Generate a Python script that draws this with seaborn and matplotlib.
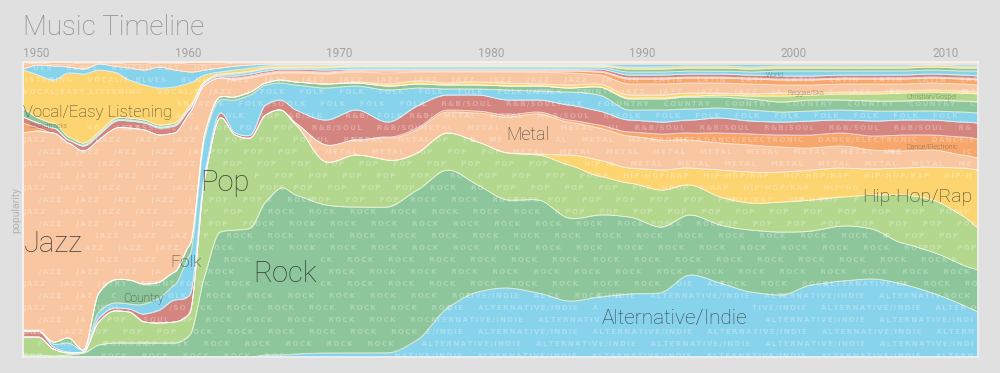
import numpy as np
import matplotlib
matplotlib.use("Agg")
import matplotlib.pyplot as plt
from matplotlib.patches import Polygon
import seaborn as sns

# ---------------- data (relative popularity) ----------------
years = [1950, 1951, 1952, 1953, 1954, 1955, 1956, 1957, 1958, 1959, 1960, 1961,
         1962, 1963, 1964, 1965, 1966, 1967, 1968, 1970, 1972, 1974, 1976, 1978,
         1980, 1982, 1984, 1986, 1988, 1990, 1992, 1994, 1996, 1998, 2000, 2002,
         2004, 2006, 2008, 2010, 2012, 2013]

genres = ["Alternative/Indie", "Rock", "Pop", "Hip-Hop/Rap", "Metal", "Dance/Electronic",
          "R&B/Soul", "Folk", "Country", "Christian/Gospel", "Reggae/Ska", "Jazz",
          "Latin", "Soundtracks", "Classical", "World", "Children's",
          "Vocal/Easy Listening", "Blues", "Holiday", "Comedy/Spoken"]

alternative = [0, 0, 0, 0, 0, 0, 0, 0, 0, 0, 0, 0, 0, 0, 0, 0, 2, 2, 3, 4, 4, 4, 17, 49,
               65, 69, 64, 56, 60, 63, 64, 82, 74, 65, 62, 72, 76, 78, 73, 64, 52, 45]
rock = [2, 2, 1, 2, 4, 12, 14, 14, 14, 14, 14, 22, 82, 125, 127, 129, 153, 167, 159, 148,
        146, 146, 150, 138, 107, 88, 93, 83, 82, 77, 66, 60, 58, 62, 63, 54, 55, 50, 41,
        41, 40, 42]
pop = [18, 18, 7, 2, 1, 23, 32, 31, 21, 20, 21, 22, 97, 114, 95, 90, 87, 78, 70, 43, 52,
       47, 37, 37, 43, 47, 45, 53, 39, 34, 37, 30, 28, 27, 30, 31, 29, 34, 48, 52, 49, 42]
hiphop = [0, 0, 0, 0, 0, 0, 0, 0, 0, 0, 0, 0, 0, 0, 0, 0, 0, 0, 0, 0, 0, 0, 0, 0, 0, 0,
          1, 10, 16, 15, 20, 17, 27, 31, 30, 30, 29, 26, 27, 33, 48, 58]
metal = [0, 0, 0, 0, 0, 0, 0, 0, 0, 0, 0, 0, 0, 0, 0, 0, 0, 0, 2, 17, 15, 22, 23, 21, 29,
         36, 40, 33, 32, 32, 30, 28, 27, 27, 25, 22, 22, 19, 17, 17, 13, 12]
dance = [0, 0, 0, 0, 0, 0, 0, 0, 0, 0, 0, 0, 0, 0, 0, 0, 0, 0, 0, 0, 0, 1, 2, 2, 2, 2, 2,
         2, 3, 4, 6, 7, 10, 11, 12, 13, 13, 14, 16, 15, 18, 19]
rnb = [6, 6, 2, 1, 0, 4, 3, 3, 8, 13, 22, 18, 6, 5, 2, 3, 10, 10, 13, 25, 30, 15, 22, 15,
       16, 15, 12, 15, 14, 12, 12, 13, 15, 13, 13, 14, 13, 15, 15, 15, 15, 16]
folk = [0, 0, 3, 9, 2, 6, 5, 5, 10, 12, 15, 40, 34, 13, 33, 40, 20, 17, 25, 32, 24, 32, 18,
        6, 6, 10, 9, 13, 16, 10, 12, 11, 10, 11, 10, 10, 10, 10, 9, 9, 10, 10]
country = [0, 0, 2, 5, 0, 19, 23, 24, 20, 16, 13, 10, 5, 3, 3, 3, 2, 3, 3, 4, 3, 4, 4, 4,
           4, 4, 5, 4, 8, 11, 11, 12, 11, 11, 10, 11, 10, 10, 10, 11, 11, 11]
christian = [0, 0, 0, 0, 0, 0, 0, 0, 0, 0, 0, 0, 0, 0, 0, 0, 0, 0, 0, 0, 0, 0, 0, 0, 0, 0,
             0, 0, 0, 1, 1, 1, 2, 3, 6, 5, 6, 7, 8, 8, 8, 8]
reggae = [0, 0, 0, 0, 0, 0, 0, 0, 0, 0, 0, 0, 0, 0, 0, 0, 0, 0, 0, 0, 1, 2, 3, 2, 3, 3, 2,
          3, 3, 3, 3, 3, 2, 2, 3, 2, 2, 2, 2, 2, 2, 2]
jazz = [198, 200, 209, 195, 199, 153, 151, 152, 154, 147, 139, 132, 48, 19, 17, 14, 8, 7,
        9, 10, 10, 11, 9, 11, 10, 11, 12, 12, 9, 11, 11, 10, 10, 10, 8, 8, 8, 8, 7, 7, 7, 7]
latin = [0, 0, 0, 0, 0, 0, 0, 0, 0, 0, 0, 0, 0, 0, 1, 1, 1, 1, 1, 1, 1, 2, 1, 1, 1, 1, 1,
         2, 3, 5, 5, 5, 5, 5, 5, 5, 5, 5, 5, 5, 5, 5]
soundtracks = [10, 3, 0, 0, 0, 0, 0, 0, 0, 0, 0, 0, 0, 0, 1, 1, 1, 1, 1, 1, 1, 1, 1, 1, 1,
               1, 1, 1, 1, 1, 1, 1, 1, 1, 1, 1, 1, 1, 1, 1, 1, 1]
classical = [6, 5, 5, 3, 5, 5, 7, 7, 7, 7, 7, 4, 2, 2, 2, 2, 2, 2, 2, 2, 1, 1, 1, 1, 1, 1,
             1, 1, 2, 3, 3, 3, 3, 3, 3, 3, 3, 3, 3, 3, 3, 3]
world = [0, 0, 0, 0, 1, 1, 1, 1, 1, 1, 1, 1, 1, 1, 2, 2, 2, 1, 1, 2, 2, 2, 2, 2, 2, 2, 2,
         2, 2, 3, 3, 3, 3, 3, 5, 5, 4, 4, 4, 4, 4, 5]
children = [9, 5, 5, 3, 2, 2, 2, 2, 2, 2, 2, 2, 1, 1, 1, 1, 1, 1, 1, 1, 1, 1, 1, 1, 1, 1,
            1, 1, 1, 3, 3, 3, 3, 3, 3, 3, 3, 3, 3, 3, 3, 3]
vocal = [38, 43, 43, 64, 69, 62, 47, 38, 35, 37, 36, 23, 6, 2, 3, 3, 2, 2, 2, 2, 1, 1, 1,
         1, 1, 1, 1, 1, 1, 2, 2, 2, 2, 2, 2, 2, 2, 2, 2, 2, 2, 2]
blues = [1, 10, 14, 6, 5, 6, 6, 12, 15, 21, 17, 11, 5, 4, 4, 3, 2, 1, 1, 1, 1, 1, 1, 1, 1,
         1, 1, 1, 1, 3, 3, 2, 2, 3, 2, 2, 2, 2, 2, 1, 2, 2]
holiday = [5, 2, 2, 3, 6, 1, 3, 4, 6, 4, 7, 8, 6, 4, 3, 2, 1, 1, 1, 1, 1, 1, 1, 1, 1, 1,
           1, 1, 1, 1, 1, 1, 1, 1, 1, 1, 1, 1, 1, 1, 1, 1]
comedy = [2, 1, 2, 2, 1, 1, 1, 2, 2, 1, 1, 2, 2, 2, 1, 1, 1, 1, 1, 1, 1, 1, 1, 1, 1, 1, 1,
          1, 1, 1, 1, 1, 1, 1, 1, 1, 1, 1, 1, 1, 1, 1]

decade_ticks = [1950, 1960, 1970, 1980, 1990, 2000, 2010]

# stream labels: (text, year, share position, font size)
stream_labels = [("Jazz", 1950.05, 0.383, 21), ("Pop", 1961.68, 0.59, 21),
                 ("Rock", 1965.17, 0.281, 21), ("Folk", 1959.7, 0.322, 12.5),
                 ("Country", 1956.6, 0.197, 8.5), ("Vocal/Easy Listening", 1950.0, 0.83, 12),
                 ("Soundtracks", 1950.45, 0.78, 5), ("Alternative/Indie", 1988.2, 0.129, 15),
                 ("Hip-Hop/Rap", 2005.35, 0.542, 14), ("Metal", 1981.9, 0.753, 13),
                 ("World", 1999.0, 0.953, 5), ("Reggae/Ska", 2000.4, 0.892, 5),
                 ("Christian/Gospel", 2008.3, 0.881, 5), ("Dance/Electronic", 2008.3, 0.712, 5)]

# ---------------- styling ----------------
BLUE, GREEN, LGREEN, YELLOW = "#88d3ec", "#8dc69a", "#b3d78c", "#fdd570"
PEACH, ORANGE, RED = "#f8c7a1", "#f7a66c", "#d5857f"
layer_colors = [BLUE, GREEN, LGREEN, YELLOW, PEACH, ORANGE, RED,
                BLUE, GREEN, LGREEN, YELLOW, PEACH,
                ORANGE, ORANGE, RED, BLUE, GREEN, YELLOW, BLUE, PEACH, ORANGE]

sns.set_theme(style="white")
plt.rcParams["font.family"] = ["Roboto", "DejaVu Sans"]

series = [alternative, rock, pop, hiphop, metal, dance, rnb, folk, country, christian,
          reggae, jazz, latin, soundtracks, classical, world, children, vocal, blues,
          holiday, comedy]
V = np.array(series, dtype=float)
X = np.array(years, dtype=float)


def pchip(x, y, xs):
    """Shape-preserving cubic used only to draw smooth stream edges."""
    h = np.diff(x)
    d = np.diff(y) / h
    n = len(x)
    m = np.zeros(n)
    for k in range(1, n - 1):
        if d[k - 1] * d[k] > 0:
            w1 = 2 * h[k] + h[k - 1]
            w2 = h[k] + 2 * h[k - 1]
            m[k] = (w1 + w2) / (w1 / d[k - 1] + w2 / d[k])
    m[0], m[-1] = d[0], d[-1]
    i = np.clip(np.searchsorted(x, xs) - 1, 0, n - 2)
    t = (xs - x[i]) / h[i]
    h00 = 2 * t**3 - 3 * t**2 + 1
    h10 = t**3 - 2 * t**2 + t
    h01 = -2 * t**3 + 3 * t**2
    h11 = t**3 - t**2
    return h00 * y[i] + h10 * h[i] * m[i] + h01 * y[i + 1] + h11 * h[i] * m[i + 1]


xs = np.linspace(X[0], X[-1], 900)
S = np.clip(np.array([pchip(X, v, xs) for v in V]), 0, None)
S = S / S.sum(axis=0)
cum = np.vstack([np.zeros(len(xs)), np.cumsum(S, axis=0)])

fig = plt.figure(figsize=(10, 3.73), dpi=100, facecolor="#e0e0e0")
ax = fig.add_axes([0.023, 16 / 373, 0.955, 295 / 373])
ax.set_xlim(1950, 2013)
ax.set_ylim(0, 1)
ax.set_xticks([])
ax.set_yticks([])
for s in ax.spines.values():
    s.set_color("#f4f4f4")
    s.set_linewidth(1.2)

renderer = fig.canvas.get_renderer()
AX_X0, AX_Y0 = ax.bbox.x0, ax.bbox.y0
AX_W, AX_H = ax.bbox.width, ax.bbox.height
PX_PER_YEAR = AX_W / (2013 - 1950)

# labels first, so the watermark rows can leave room for them
lab = dict(color="#2f2f2f", alpha=0.88, fontweight="light", va="center", ha="left",
           zorder=5)
label_boxes = []
for txt, yr, share, fs in stream_labels:
    t = ax.text(yr, share, txt, fontsize=fs, **lab)
    bb = t.get_window_extent(renderer)
    label_boxes.append((bb.x0 - AX_X0 - 2, bb.x1 - AX_X0 + 2,
                        bb.y0 - AX_Y0, bb.y1 - AX_Y0))

WM_SIZE = 5.0
TS = "\u2009"


def measure(s):
    t = ax.text(0, 0, s, fontsize=WM_SIZE, family=["DejaVu Sans"], fontweight="bold")
    w = t.get_window_extent(renderer).width
    t.remove()
    return w


def subtract(intervals, cut):
    out = []
    c0, c1 = cut
    for a, b in intervals:
        if c1 <= a or c0 >= b:
            out.append((a, b))
        else:
            if c0 > a:
                out.append((a, c0))
            if c1 < b:
                out.append((c1, b))
    return out


for i, name in enumerate(genres):
    lo, hi = cum[i], cum[i + 1]
    ax.fill_between(xs, lo, hi, color=layer_colors[i], lw=0)
    verts = np.concatenate([np.c_[xs, hi], np.c_[xs[::-1], lo[::-1]]])
    clip = Polygon(verts, closed=True, transform=ax.transData)

    # faint repeated genre name, tiled in rows and clipped to the stream
    unit = TS.join(name.upper()) + "      "
    unit_w = measure(unit)
    char_w = unit_w / len(unit)
    long_row = unit * (int(AX_W / unit_w) + 3)
    thick = (hi - lo) * AX_H
    for k in range(25):
        ypx = AX_H - (6 + 12 * k)
        yrow = ypx / AX_H
        d = 1.5 / AX_H
        mask = (lo <= yrow + d) & (hi >= yrow - d) & (thick >= 4.5)
        if not mask.any():
            continue
        idx = np.flatnonzero(mask)
        breaks = np.flatnonzero(np.diff(idx) > 1)
        starts = np.r_[idx[0], idx[breaks + 1]]
        ends = np.r_[idx[breaks], idx[-1]]
        segs = [((xs[a] - 1950) * PX_PER_YEAR, (xs[b] - 1950) * PX_PER_YEAR)
                for a, b in zip(starts, ends)]
        for bx0, bx1, by0, by1 in label_boxes:
            if by0 - 3 < ypx < by1 + 3:
                segs = subtract(segs, (bx0, bx1))
        phase = (k % 2) * unit_w / 2
        for px0, px1 in segs:
            if px1 - px0 < 6:
                continue
            start = phase + np.floor((px0 - phase) / unit_w) * unit_w
            skip = int(np.ceil(max(0.0, px0 - start) / char_w))
            start += skip * char_w
            nchar = int((min(px1, AX_W - 2) - start) / char_w)
            if nchar <= 0:
                continue
            s = long_row[skip:skip + nchar]
            t = ax.text(1950 + start / PX_PER_YEAR, yrow, s, fontsize=WM_SIZE,
                        family=["DejaVu Sans"], fontweight="bold", color="white",
                        alpha=0.28, ha="left", va="center", clip_on=True)
            t.set_clip_path(clip)

for i in range(1, len(genres)):
    ax.plot(xs, cum[i], color="white", lw=0.6, alpha=0.75)

for yr in decade_ticks:
    ax.text(yr, 1 + 5 / 295, str(yr), transform=ax.get_xaxis_transform(),
            fontsize=8.5, color="#a3a3a3", ha="left", va="baseline", clip_on=False)

fig.text(0.023, (373 - 35) / 373, "Music Timeline", fontsize=20, color="#8c8c8c",
         fontweight="light", ha="left", va="baseline")
fig.text(0.016, (373 - 210) / 373, "popularity", rotation=90, fontsize=7.5,
         color="#b3b3b3", ha="center", va="center")

fig.savefig("out.png", dpi=100, facecolor=fig.get_facecolor())
